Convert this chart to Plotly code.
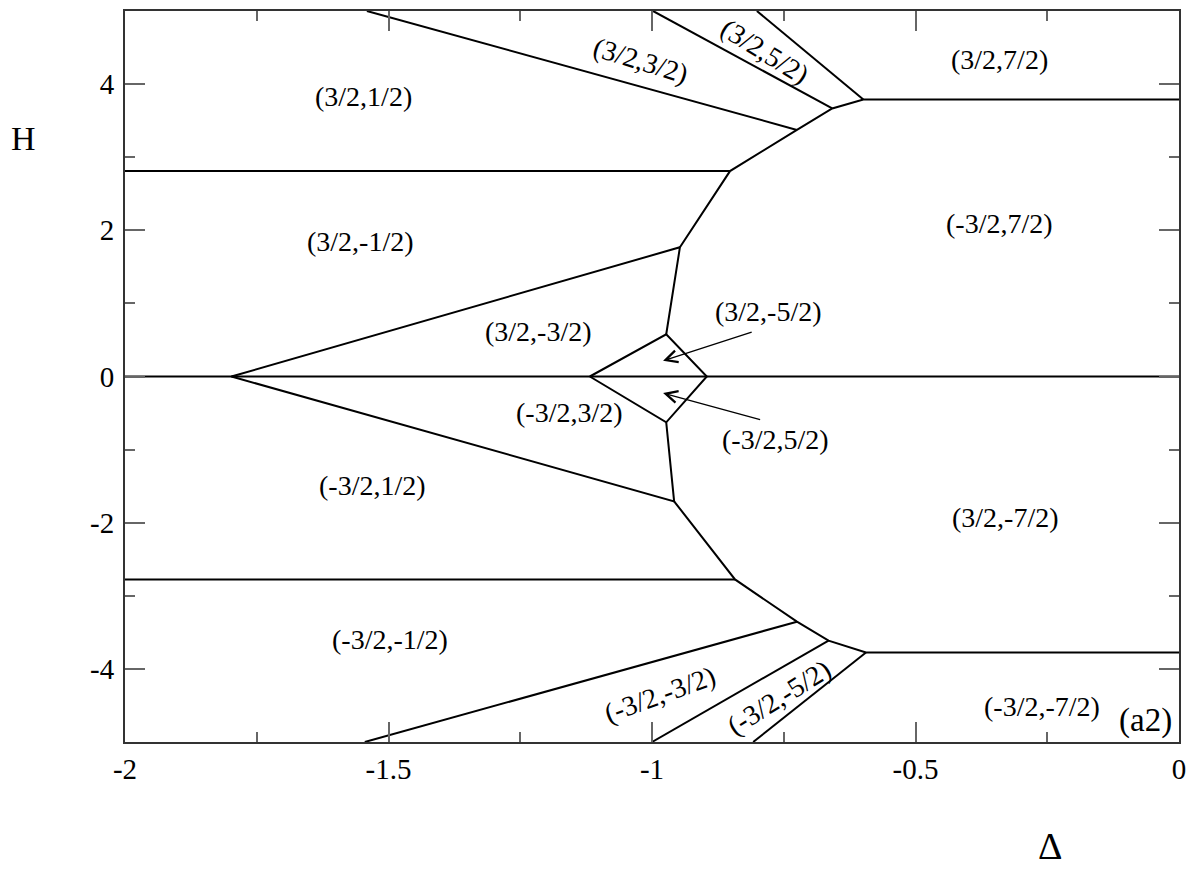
import plotly.graph_objects as go

# phase boundaries, as (Delta, H) polylines
axis_x = [-2.0, 0.0]
axis_y = [0.0, 0.0]

upper_flat_x = [-2.0, -0.852]
upper_flat_y = [2.81, 2.81]
upper_chain_x = [-0.947, -0.852, -0.725, -0.658, -0.599, 0.0]
upper_chain_y = [1.768, 2.81, 3.373, 3.667, 3.79, 3.79]
upper_ray1_x = [-0.725, -1.541]
upper_ray1_y = [3.373, 5.0]
upper_ray2_x = [-0.658, -0.998]
upper_ray2_y = [3.667, 5.0]
upper_ray3_x = [-0.599, -0.801]
upper_ray3_y = [3.79, 5.0]
upper_wedge_x = [-1.798, -0.947, -0.973]
upper_wedge_y = [0.0, 1.768, 0.578]

rhombus_x = [-1.118, -0.973, -0.896, -0.973, -1.118]
rhombus_y = [0.0, 0.578, 0.0, -0.627, 0.0]

lower_wedge_x = [-1.798, -0.958, -0.973]
lower_wedge_y = [0.0, -1.708, -0.627]
lower_flat_x = [-2.0, -0.8425]
lower_flat_y = [-2.776, -2.776]
lower_chain_x = [-0.958, -0.8425, -0.725, -0.665, -0.594, 0.0]
lower_chain_y = [-1.708, -2.776, -3.354, -3.613, -3.776, -3.776]
lower_ray1_x = [-0.725, -1.545]
lower_ray1_y = [-3.354, -5.0]
lower_ray2_x = [-0.665, -1.0]
lower_ray2_y = [-3.613, -5.0]
lower_ray3_x = [-0.594, -0.808]
lower_ray3_y = [-3.776, -5.0]

lines = [
    (axis_x, axis_y), (upper_flat_x, upper_flat_y), (upper_chain_x, upper_chain_y),
    (upper_ray1_x, upper_ray1_y), (upper_ray2_x, upper_ray2_y), (upper_ray3_x, upper_ray3_y),
    (upper_wedge_x, upper_wedge_y), (rhombus_x, rhombus_y),
    (lower_wedge_x, lower_wedge_y), (lower_flat_x, lower_flat_y), (lower_chain_x, lower_chain_y),
    (lower_ray1_x, lower_ray1_y), (lower_ray2_x, lower_ray2_y), (lower_ray3_x, lower_ray3_y),
]

# region labels
label_text = ['(3/2,1/2)', '(3/2,3/2)', '(3/2,5/2)', '(3/2,7/2)', '(3/2,-1/2)', '(-3/2,7/2)',
              '(3/2,-3/2)', '(3/2,-5/2)', '(-3/2,3/2)', '(-3/2,5/2)', '(-3/2,1/2)', '(3/2,-7/2)',
              '(-3/2,-1/2)', '(-3/2,-3/2)', '(-3/2,-5/2)', '(-3/2,-7/2)']
label_x = [-1.548, -1.021, -0.786, -0.340, -1.554, -0.340, -1.216, -0.778, -1.156, -0.765,
           -1.531, -0.330, -1.497, -0.985, -0.759, -0.260]
label_y = [3.83, 4.32, 4.44, 4.33, 1.85, 2.09, 0.62, 0.894, -0.49, -0.86, -1.49, -1.93,
           -3.60, -4.35, -4.39, -4.52]
label_angle = [0, 17, 32, 0, 0, 0, 0, 0, 0, 0, 0, 0, 0, -20, -32, 0]

# arrows pointing into the small rhombus regions (tail -> head)
arrow_tail_x = [-0.808, -0.792]
arrow_tail_y = [0.613, -0.595]
arrow_head_x = [-0.979, -0.979]
arrow_head_y = [0.214, -0.226]

FONT = 'Liberation Serif'

# body margin is removed in post_script, so the figure fills the window
W, Hh = 1197, 872
L, R, T, B = 125, 18, 9, 130
pw, ph = W - L - R, Hh - T - B


def paper_xy(px, py):
    # window pixel -> paper coords
    return (px - L) / pw, (Hh - B - py) / ph


fig = go.Figure()
for xs, ys in lines:
    fig.add_trace(go.Scatter(x=xs, y=ys, mode='lines',
                             line={'color': 'black', 'width': 2},
                             hoverinfo='skip', showlegend=False))

for txt, x, y, ang in zip(label_text, label_x, label_y, label_angle):
    fig.add_annotation(x=x, y=y, text=txt, showarrow=False, textangle=ang,
                       font={'family': FONT, 'size': 28, 'color': 'black'})

for tx, ty, hx, hy in zip(arrow_tail_x, arrow_tail_y, arrow_head_x, arrow_head_y):
    fig.add_annotation(x=hx, y=hy, ax=tx, ay=ty, xref='x', yref='y', axref='x', ayref='y',
                       text='', showarrow=True, arrowhead=5, arrowsize=1.8,
                       arrowwidth=1.3, arrowcolor='black')

fig.add_annotation(x=-0.063, y=-4.71, text='(a2)', showarrow=False,
                   font={'family': FONT, 'size': 33, 'color': 'black'})
hx, hy = paper_xy(23, 137)
fig.add_annotation(x=hx, y=hy, xref='paper', yref='paper', text='H', showarrow=False,
                   xanchor='center', yanchor='middle',
                   font={'family': FONT, 'size': 34, 'color': 'black'})
dx, dy = paper_xy(1050, 846)
fig.add_annotation(x=dx, y=dy, xref='paper', yref='paper', text='Δ', showarrow=False,
                   xanchor='center', yanchor='middle',
                   font={'family': FONT, 'size': 38, 'color': 'black'})

axis_style = dict(showgrid=False, zeroline=False, showline=True, linecolor='#333',
                  linewidth=2, mirror='ticks', ticks='inside', ticklen=20,
                  tickwidth=1.5, tickcolor='#666',
                  tickfont={'family': FONT, 'size': 29, 'color': 'black'})

fig.update_xaxes(range=[-2, 0], tickvals=[-2, -1.5, -1, -0.5, 0],
                 ticktext=['-2', '-1.5', '-1', '-0.5', '0'], ticklabelstandoff=0,
                 minor=dict(ticks='inside', ticklen=10, tickwidth=1.5, tickcolor='#666',
                            tickvals=[-1.75, -1.25, -0.75, -0.25]),
                 **axis_style)
fig.update_yaxes(range=[-5, 5], tickvals=[-4, -2, 0, 2, 4],
                 ticktext=['-4', '-2', '0', '2', '4'], ticklabelstandoff=3,
                 minor=dict(ticks='inside', ticklen=10, tickwidth=1.5, tickcolor='#666',
                            tickvals=[-3, -1, 1, 3]),
                 **axis_style)

fig.update_layout(width=W, height=Hh, margin=dict(l=L, r=R, t=T, b=B),
                  paper_bgcolor='white', plot_bgcolor='white', showlegend=False)

fig.write_html('out.html', config={'displayModeBar': False},
               post_script="document.body.style.margin='0';document.body.style.overflow='hidden';")
